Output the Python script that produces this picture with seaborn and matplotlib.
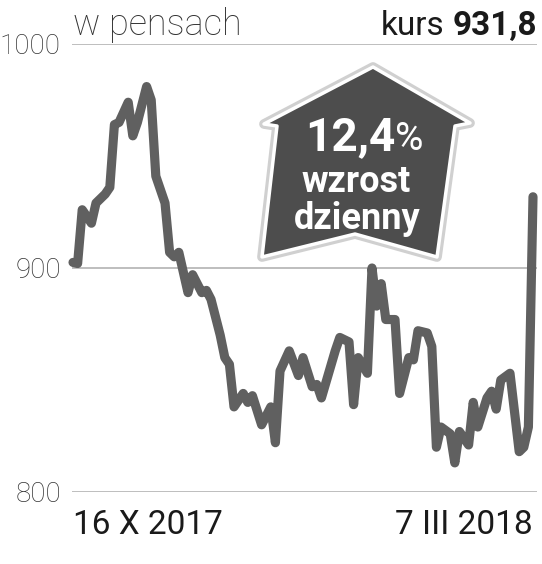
import matplotlib
matplotlib.use('Agg')
import matplotlib.pyplot as plt
import matplotlib.patheffects as pe
from matplotlib.patches import Polygon
import pandas as pd
import seaborn as sns

# numer sesji od 16 X 2017 (0) do 7 III 2018 (100)
sesja = [0, 1, 2, 4, 5, 7, 8, 9, 10, 12, 13, 14, 16, 17, 18, 20, 21, 22, 23,
         25, 26, 28, 29, 30, 32, 33, 34, 35, 37, 38, 39, 41, 43, 44, 45, 47,
         49, 50, 52, 53, 54, 57, 58, 60, 61, 62, 64, 65, 66, 67, 68, 70, 71,
         73, 74, 75, 77, 78, 79, 80, 82, 83, 84, 86, 87, 88, 90, 91, 92, 93,
         95, 97, 98, 99, 100]
# kurs w pensach
kurs = [902.5, 902, 926, 920, 929, 933, 936, 964, 965, 974, 959, 965, 981, 975, 941, 929, 907, 905, 907,
        889, 897, 889, 890, 886, 870, 860, 857, 838, 844, 840, 843, 830, 838, 822, 854, 863,
        852, 860, 847, 848, 842, 863, 869, 867, 839, 860, 853, 900, 883, 893, 877, 877, 844,
        860, 859, 872, 871, 865, 820, 829, 826, 813, 827, 821, 840, 829, 842, 845, 837, 850,
        853, 818, 820, 829, 931.8]

y_ticks = [800, 900, 1000]
x_ticks = [0, 100]
x_labels = ['16 X 2017', '7 III 2018']

df = pd.DataFrame({'sesja': sesja, 'kurs': kurs})

sns.set_style('white')
plt.rcParams['font.family'] = ['Roboto', 'DejaVu Sans']

W, H = 542, 564
fig = plt.figure(figsize=(W / 100, H / 100), dpi=100)
ax = fig.add_axes([72 / W, 72 / H, 465 / W, 448 / H])

def fx(px):
    return px / W

def fy(py):
    return 1 - py / H

for v in y_ticks:
    ax.axhline(v, color='#b3b3b3', lw=1.2, zorder=1)

sns.lineplot(data=df, x='sesja', y='kurs', ax=ax, color='#606060', lw=6.6,
             sort=False, estimator=None, zorder=3)
for ln in ax.lines[len(y_ticks):]:
    ln.set_solid_capstyle('round')
    ln.set_solid_joinstyle('round')
    ln.set_clip_on(False)

ax.set_xlim(-0.22, 100.87)
ax.set_ylim(800, 1000)
ax.set_yticks(y_ticks)
ax.set_yticklabels([str(v) for v in y_ticks], fontsize=20, fontweight='light', color='#333333')
ax.set_xticks(x_ticks)
ax.set_xticklabels(x_labels, fontsize=24, color='#1a1a1a')
xl = ax.get_xticklabels()
xl[0].set_ha('left')
xl[1].set_ha('right')
ax.tick_params(axis='y', length=0, pad=8)
ax.tick_params(axis='x', length=0, pad=12)
ax.set_xlabel('')
ax.set_ylabel('')
sns.despine(ax=ax, left=True, bottom=True)

fig.text(fx(73), fy(35), 'w pensach', fontsize=26, fontweight='light',
         color='#333333', va='baseline', ha='left')
t_val = fig.text(fx(537), fy(35), '931,8', fontsize=24, fontweight='bold',
                 color='#1a1a1a', va='baseline', ha='right')
fig.canvas.draw()
bb = t_val.get_window_extent()
fig.text((bb.x0 - 8) / W, fy(35), 'kurs', fontsize=24, color='#1a1a1a',
         va='baseline', ha='right')

# plakietka ze strzalka
badge = [(373, 67), (470, 123), (455, 126), (437, 257), (355, 234),
         (262, 257), (277, 126), (264, 124)]
poly = Polygon([(fx(x), fy(y)) for x, y in badge], closed=True,
               transform=fig.transFigure, facecolor='#4d4d4d',
               edgecolor='white', lw=2.5, joinstyle='round', zorder=5)
poly.set_path_effects([pe.Stroke(linewidth=7, foreground='#d0d0d0'), pe.Normal()])
fig.add_artist(poly)

fig.text(fx(395), fy(150), '12,4', fontsize=33, fontweight='bold',
         color='white', ha='right', va='baseline', zorder=6)
fig.text(fx(395), fy(150), '%', fontsize=28, color='white',
         ha='left', va='baseline', zorder=6)
fig.text(fx(356), fy(192), 'wzrost', fontsize=26, fontweight='bold',
         color='white', ha='center', va='baseline', zorder=6)
fig.text(fx(357), fy(229), 'dzienny', fontsize=26, fontweight='bold',
         color='white', ha='center', va='baseline', zorder=6)

fig.savefig('out.png', dpi=100)
